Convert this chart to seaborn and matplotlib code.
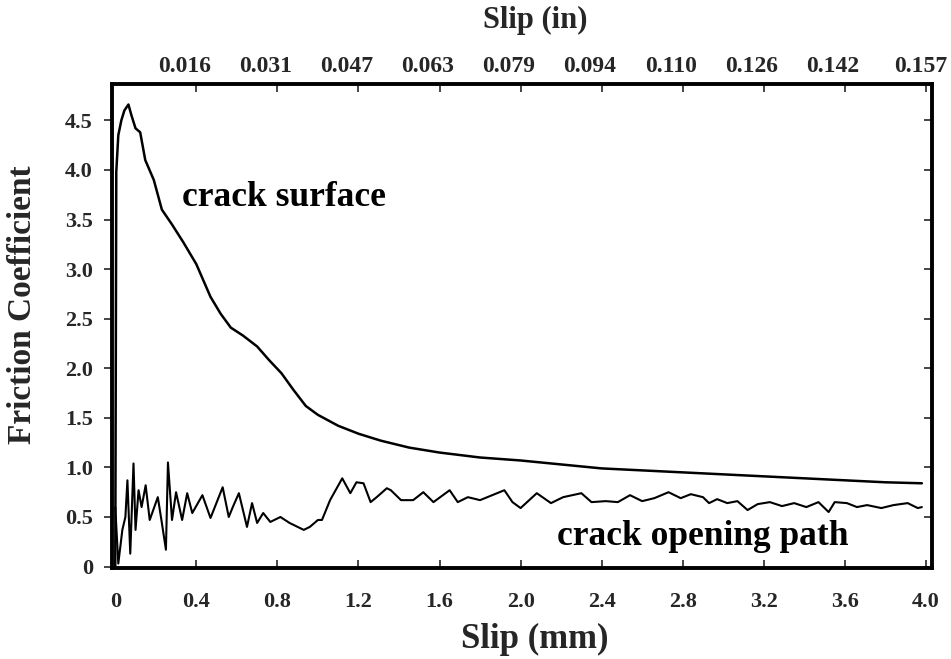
import numpy as np
import pandas as pd
import matplotlib
matplotlib.use("Agg")
import matplotlib.pyplot as plt
import matplotlib.transforms as mtransforms
import seaborn as sns

# ---- data ----
surface_x = [0, 0.005, 0.015, 0.03, 0.045, 0.065, 0.08, 0.1, 0.123, 0.148, 0.19, 0.23, 0.28,
             0.336, 0.40, 0.47, 0.52, 0.57, 0.63, 0.70, 0.76, 0.82, 0.88, 0.94, 1.0, 1.1,
             1.2, 1.31, 1.45, 1.6, 1.8, 2.0, 2.2, 2.4, 2.6, 2.8, 3.0, 3.2, 3.4, 3.6, 3.8, 3.98]
surface_y = [0, 3.98, 4.35, 4.5, 4.6, 4.66, 4.55, 4.42, 4.38, 4.1, 3.9, 3.6, 3.45,
             3.27, 3.05, 2.72, 2.55, 2.41, 2.33, 2.22, 2.08, 1.95, 1.78, 1.62, 1.53, 1.42,
             1.34, 1.27, 1.2, 1.15, 1.1, 1.07, 1.03, 0.99, 0.97, 0.95, 0.93, 0.91, 0.89, 0.87, 0.85, 0.84]

opening_x = [0, 0.015, 0.035, 0.05, 0.06, 0.074, 0.09, 0.1, 0.115, 0.13, 0.15, 0.17, 0.21,
             0.23, 0.25, 0.26, 0.28, 0.30, 0.33, 0.355, 0.38, 0.43, 0.47, 0.53, 0.56, 0.58,
             0.61, 0.65, 0.675, 0.70, 0.73, 0.765, 0.815, 0.86, 0.93, 0.96, 1.0, 1.02, 1.06,
             1.12, 1.16, 1.19, 1.225, 1.26, 1.29, 1.34, 1.36, 1.41, 1.47, 1.52, 1.57, 1.65,
             1.69, 1.74, 1.80, 1.86, 1.92, 1.96, 2.0, 2.08, 2.15, 2.21, 2.30, 2.35, 2.42,
             2.48, 2.54, 2.60, 2.66, 2.73, 2.79, 2.84, 2.90, 2.93, 2.97, 3.02, 3.07, 3.12,
             3.17, 3.23, 3.29, 3.35, 3.41, 3.47, 3.52, 3.55, 3.61, 3.66, 3.71, 3.78, 3.84,
             3.91, 3.96, 3.98]
opening_y = [0.6, 0.03, 0.37, 0.50, 0.87, 0.13, 1.04, 0.37, 0.77, 0.60, 0.82, 0.47, 0.70,
             0.44, 0.17, 1.05, 0.47, 0.75, 0.47, 0.74, 0.54, 0.72, 0.49, 0.80, 0.50, 0.60,
             0.74, 0.40, 0.64, 0.44, 0.54, 0.45, 0.50, 0.44, 0.37, 0.40, 0.47, 0.47, 0.67,
             0.89, 0.74, 0.85, 0.84, 0.65, 0.70, 0.79, 0.77, 0.67, 0.67, 0.75, 0.65, 0.77,
             0.65, 0.70, 0.67, 0.72, 0.77, 0.65, 0.59, 0.74, 0.64, 0.70, 0.74, 0.65, 0.66,
             0.65, 0.72, 0.66, 0.69, 0.75, 0.69, 0.73, 0.70, 0.64, 0.68, 0.64, 0.66, 0.57,
             0.63, 0.65, 0.61, 0.64, 0.60, 0.65, 0.55, 0.65, 0.64, 0.60, 0.62, 0.59, 0.62,
             0.64, 0.59, 0.60]

x_ticks_mm = [0, 0.4, 0.8, 1.2, 1.6, 2.0, 2.4, 2.8, 3.2, 3.6, 4.0]
x_tick_labels_mm = ["0", "0.4", "0.8", "1.2", "1.6", "2.0", "2.4", "2.8", "3.2", "3.6", "4.0"]
x_ticks_in = [0.4, 0.8, 1.2, 1.6, 2.0, 2.4, 2.8, 3.2, 3.6, 4.0]
x_tick_labels_in = ["0.016", "0.031", "0.047", "0.063", "0.079", "0.094", "0.110", "0.126", "0.142", "0.157"]
y_ticks = [0, 0.5, 1.0, 1.5, 2.0, 2.5, 3.0, 3.5, 4.0, 4.5]
y_tick_labels = ["0", "0.5", "1.0", "1.5", "2.0", "2.5", "3.0", "3.5", "4.0", "4.5"]

sns.set_theme(style="ticks")
plt.rcParams["font.family"] = ["Liberation Serif", "DejaVu Serif"]
plt.rcParams["font.weight"] = "bold"

fig = plt.figure(figsize=(9.51, 6.59), dpi=100)
ax = fig.add_axes([0.118, 0.138, 0.862, 0.735])

df_s = pd.DataFrame({"x": surface_x, "y": surface_y})
df_o = pd.DataFrame({"x": opening_x, "y": opening_y})
sns.lineplot(data=df_s, x="x", y="y", ax=ax, color="black", linewidth=1.8, sort=False, estimator=None)
sns.lineplot(data=df_o, x="x", y="y", ax=ax, color="black", linewidth=1.5, sort=False, estimator=None)

ax.set_xlim(-0.015, 4.03)
ax.set_ylim(-0.015, 4.87)

ax.set_xticks(x_ticks_mm)
ax.set_xticklabels(x_tick_labels_mm, fontsize=16, fontweight="bold")
ax.set_yticks(y_ticks)
ax.set_yticklabels(y_tick_labels, fontsize=16, fontweight="bold")
ax.tick_params(axis="x", direction="in", length=6, width=1.2, pad=17, top=False)
ax.tick_params(axis="y", direction="out", length=6, width=1.2, pad=8, right=True, labelright=False)
for t in ax.yaxis.get_ticklines()[1::2]:
    t.set_marker(matplotlib.lines.TICKLEFT)
    t.set_markersize(6)

for s in ax.spines.values():
    s.set_visible(True)
    s.set_linewidth(2.8)
    s.set_color("black")

ax.set_xlabel("Slip (mm)", fontsize=25, fontweight="bold")
ax.xaxis.set_label_coords(0.516, -0.113)
ax.set_ylabel("Friction Coefficient", fontsize=24, fontweight="bold")
ax.yaxis.set_label_coords(-0.09, 0.543)

top = ax.secondary_xaxis("top")
top.set_xticks(x_ticks_in)
top.set_xticklabels(x_tick_labels_in, fontsize=17, fontweight="bold")
top.tick_params(direction="in", length=6, width=1.2, pad=5)
top.set_xlabel("Slip (in)", fontsize=22, fontweight="bold", labelpad=20)
top.xaxis.label.set_x(0.516)
shift = mtransforms.ScaledTranslation(-12 / 100, 0, fig.dpi_scale_trans)
for lab in top.get_xticklabels()[:-1]:
    lab.set_transform(lab.get_transform() + shift)
shift_last = mtransforms.ScaledTranslation(-5 / 100, 0, fig.dpi_scale_trans)
last = top.get_xticklabels()[-1]
last.set_transform(last.get_transform() + shift_last)

ax.text(0.33, 3.72, "crack surface", fontsize=25.5, fontweight="bold", color="black", va="center", ha="left")
ax.text(2.18, 0.30, "crack opening path", fontsize=25.5, fontweight="bold", color="black", va="center", ha="left")

fig.savefig("out.png", dpi=100)
